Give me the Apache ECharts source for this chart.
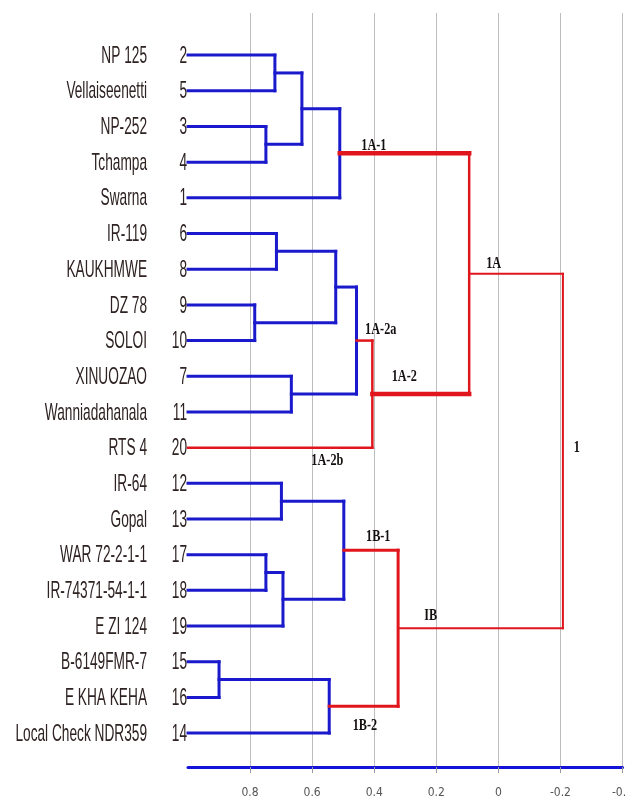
<!DOCTYPE html>
<html>
<head>
<meta charset="utf-8">
<title>Dendrogram</title>
<script src="https://cdn.jsdelivr.net/npm/echarts@6/dist/echarts.min.js"></script>
<style>
  html, body { margin: 0; padding: 0; background: #fff; }
  #chart { width: 625px; height: 803px; }
</style>
</head>
<body>
<div id="chart"></div>
<script>
// leaves, top to bottom
var leafNames = ['NP 125', 'Vellaiseenetti', 'NP-252', 'Tchampa', 'Swarna',
  'IR-119', 'KAUKHMWE', 'DZ 78', 'SOLOI', 'XINUOZAO', 'Wanniadahanala', 'RTS 4',
  'IR-64', 'Gopal', 'WAR 72-2-1-1', 'IR-74371-54-1-1', 'E ZI 124',
  'B-6149FMR-7', 'E KHA KEHA', 'Local Check NDR359'];
var leafIds = [2, 5, 3, 4, 1, 6, 8, 9, 10, 7, 11, 20, 12, 13, 17, 18, 19, 15, 16, 14];
var leafLevel = 1.0;

// linkage: node ids 0..19 are leaves, merge k creates node 20+k
var mergeA = [0, 2, 20, 22, 5, 7, 24, 9, 26, 28, 23, 12, 14, 32, 31, 17, 35, 34, 30];
var mergeB = [1, 3, 21, 4, 6, 8, 25, 10, 27, 11, 29, 13, 15, 16, 33, 18, 19, 36, 37];
var mergeHeight = [0.720, 0.749, 0.633, 0.511, 0.715, 0.785, 0.524, 0.667, 0.457, 0.406,
  0.094, 0.699, 0.749, 0.694, 0.498, 0.900, 0.545, 0.323, -0.208];

// cluster annotations
var clusterNames = ['1A-1', '1A', '1A-2a', '1A-2', '1', '1A-2b', '1B-1', 'IB', '1B-2'];
var clusterX = [0.401, 0.015, 0.379, 0.303, -0.253, 0.551, 0.387, 0.218, 0.430];
var clusterY = [2.55, 5.83, 7.68, 9.0, 10.99, 11.35, 13.49, 15.7, 18.78];

var BLUE = '#1a1acc';
var RED = '#e0161c';
// red merges: [leg width, stem width]; the rest are blue, width 3
var redMerges = { 9: [2.5, 2.5], 10: [4.5, 2.5], 17: [3, 3], 18: [2, 2] };

var chart = echarts.init(document.getElementById('chart'));

// build the elbow segments from the linkage
var nodeY = [], nodeH = [];
for (var i = 0; i < leafNames.length; i++) {
  nodeY.push(i);
  nodeH.push(leafLevel);
}
var segs = [], segStyle = [];
for (var k = 0; k < mergeA.length; k++) {
  var a = mergeA[k], b = mergeB[k], h = mergeHeight[k];
  var st = redMerges[k];
  var color = st ? RED : BLUE;
  var legW = st ? st[0] : 3, stemW = st ? st[1] : 3;
  [a, b].forEach(function (c) {
    segs.push([nodeH[c], nodeY[c], h, nodeY[c]]);
    segStyle.push({ color: color, width: legW });
  });
  segs.push([h, nodeY[a], h, nodeY[b]]);
  segStyle.push({ color: color, width: stemW });
  nodeY.push((nodeY[a] + nodeY[b]) / 2);
  nodeH.push(h);
}
// blue first, red on top
var order = segs.map(function (s, i) { return i; }).sort(function (p, q) {
  return (segStyle[p].color === RED) - (segStyle[q].color === RED);
});
var segData = order.map(function (i) { return segs[i]; });
var segStyleSorted = order.map(function (i) { return segStyle[i]; });

var leafPts = leafNames.map(function (n, i) { return [leafLevel, i]; });
var clusterPts = clusterNames.map(function (n, i) { return [clusterX[i], clusterY[i]]; });

var option = {
  backgroundColor: '#ffffff',
  animation: false,
  grid: { left: 188, right: 2.5, top: 13, bottom: 36, outerBoundsMode: 'none', containLabel: false },
  xAxis: {
    type: 'value',
    inverse: true,
    min: -0.4,
    max: 1.0,
    interval: 0.2,
    axisLine: { onZero: false, lineStyle: { color: '#1414d8', width: 3 } },
    axisTick: { show: true, length: 6, lineStyle: { color: '#999' } },
    axisLabel: {
      showMaxLabel: false,
      hideOverlap: false,
      margin: 20,
      color: '#555',
      fontSize: 12,
      fontFamily: "'DejaVu Sans Condensed', 'Liberation Sans', sans-serif",
      formatter: function (v) { return String(+v.toFixed(1)); }
    },
    splitLine: { show: true, showMaxLine: false, lineStyle: { color: '#bdbdbd', width: 1 } }
  },
  yAxis: {
    type: 'value',
    inverse: true,
    min: -1.18,
    max: 19.95,
    show: false
  },
  series: [
    {
      type: 'custom',
      silent: true,
      data: segData,
      encode: { x: [0, 2], y: [1, 3] },
      renderItem: function (params, api) {
        var p1 = api.coord([api.value(0), api.value(1)]);
        var p2 = api.coord([api.value(2), api.value(3)]);
        var s = segStyleSorted[params.dataIndex];
        return {
          type: 'line',
          shape: { x1: p1[0], y1: p1[1], x2: p2[0], y2: p2[1] },
          style: { stroke: s.color, lineWidth: s.width, lineCap: 'square' }
        };
      },
      z: 3
    },
    {
      type: 'custom',
      silent: true,
      data: leafPts,
      encode: { x: 0, y: 1 },
      renderItem: function (params, api) {
        var p = api.coord([api.value(0), api.value(1)]);
        var font = { fontSize: 24, fontFamily: "'Liberation Sans', Arial, sans-serif", fill: '#2e2222', align: 'right', verticalAlign: 'middle' };
        return {
          type: 'group',
          children: [
            { type: 'text', x: p[0] - 1, y: p[1] + 1, scaleX: 0.57,
              style: Object.assign({ text: String(leafIds[params.dataIndex]) }, font) },
            { type: 'text', x: p[0] - 41, y: p[1] + 1, scaleX: 0.57,
              style: Object.assign({ text: leafNames[params.dataIndex] }, font) }
          ]
        };
      },
      z: 5
    },
    {
      type: 'custom',
      silent: true,
      data: clusterPts,
      encode: { x: 0, y: 1 },
      renderItem: function (params, api) {
        var p = api.coord([api.value(0), api.value(1)]);
        return {
          type: 'text', x: p[0], y: p[1], scaleX: 0.72,
          style: {
            text: clusterNames[params.dataIndex],
            fontSize: 17, fontWeight: 'bold',
            fontFamily: "'Liberation Serif', 'DejaVu Serif', serif",
            fill: '#151010', align: 'center', verticalAlign: 'middle'
          }
        };
      },
      z: 6
    }
  ]
};
chart.setOption(option);
</script>
</body>
</html>
